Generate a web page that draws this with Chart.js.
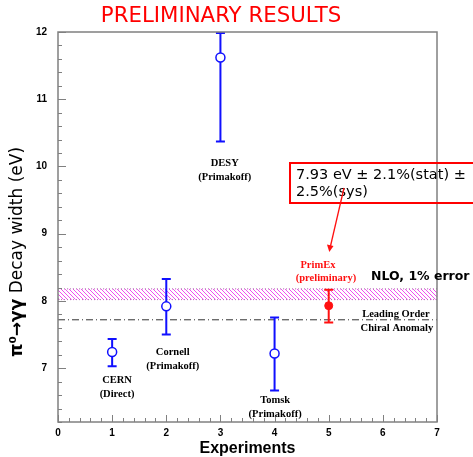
<!DOCTYPE html>
<html>
<head>
<meta charset="utf-8">
<script src="https://cdn.jsdelivr.net/npm/chart.js@4.4.1/dist/chart.umd.min.js"></script>
<style>
  body { margin: 0; background: #fff; }
  canvas { display: block; }
</style>
</head>
<body>
<canvas id="grafic" width="473" height="457"></canvas>
<script>
// mesures anteriors (eV)
const experiments = ['CERN', 'Cornell', 'DESY', 'Tomsk'];
const metodes = ['(Direct)', '(Primakoff)', '(Primakoff)', '(Primakoff)'];
const posX = [1, 2, 3, 4];
const amplades = [7.24, 7.92, 11.62, 7.22];
const errors = [0.21, 0.42, 1.25, 0.55];

// PrimEx
const primexX = [5];
const primexAmplada = [7.93];
const primexError = [0.25];

// teoria
const bandaNLO = [8.02, 8.18];
const ordreDominant = 7.72;

const xTicks = [0, 1, 2, 3, 4, 5, 6, 7];
const yTicks = [7, 8, 9, 10, 11, 12];

const esEnter = v => Math.abs(v - Math.round(v)) < 1e-6;

function patroRatllat(ctx) {
    const c = document.createElement('canvas');
    c.width = 4; c.height = 4;
    const p = c.getContext('2d');
    p.strokeStyle = '#f050f0';
    p.lineWidth = 1;
    p.beginPath();
    p.moveTo(-1, -1); p.lineTo(5, 5);
    p.moveTo(-1, 3); p.lineTo(1, 5);
    p.moveTo(3, -1); p.lineTo(5, 1);
    p.stroke();
    return ctx.createPattern(c, 'repeat');
}

const extres = {
    id: 'extres',
    beforeDatasetsDraw(chart) {
        const { ctx, chartArea: a, scales: { x, y } } = chart;
        ctx.save();
        ctx.beginPath();
        ctx.rect(a.left, a.top, a.right - a.left, a.bottom - a.top);
        ctx.clip();

        // banda NLO
        const yb1 = y.getPixelForValue(bandaNLO[1]);
        const yb0 = y.getPixelForValue(bandaNLO[0]);
        ctx.fillStyle = patroRatllat(ctx);
        ctx.fillRect(a.left, yb1, a.right - a.left, yb0 - yb1);
        ctx.strokeStyle = '#b070b0';
        ctx.lineWidth = 1;
        ctx.setLineDash([1, 2]);
        ctx.beginPath();
        ctx.moveTo(a.left, yb1); ctx.lineTo(a.right, yb1);
        ctx.moveTo(a.left, yb0); ctx.lineTo(a.right, yb0);
        ctx.stroke();

        // ordre dominant
        const ylo = y.getPixelForValue(ordreDominant);
        ctx.strokeStyle = '#333';
        ctx.setLineDash([7, 3, 1, 3]);
        ctx.beginPath();
        ctx.moveTo(a.left, ylo); ctx.lineTo(a.right, ylo);
        ctx.stroke();
        ctx.setLineDash([]);

        // barres d'error
        const barra = (xv, v, e, color) => {
            const px = x.getPixelForValue(xv);
            const yt = y.getPixelForValue(Math.min(v + e, y.max));
            const yd = y.getPixelForValue(Math.max(v - e, y.min));
            ctx.strokeStyle = color;
            ctx.lineWidth = 2;
            ctx.beginPath();
            ctx.moveTo(px, yt); ctx.lineTo(px, yd);
            ctx.moveTo(px - 4.5, yt + 1); ctx.lineTo(px + 4.5, yt + 1);
            ctx.moveTo(px - 4.5, yd); ctx.lineTo(px + 4.5, yd);
            ctx.stroke();
        };
        posX.forEach((xv, i) => barra(xv, amplades[i], errors[i], '#1010ff'));
        primexX.forEach((xv, i) => barra(xv, primexAmplada[i], primexError[i], '#ff1010'));
        ctx.restore();
    },
    afterDraw(chart) {
        const { ctx, chartArea: a, scales: { x, y } } = chart;
        ctx.save();
        // marc
        ctx.strokeStyle = '#808080';
        ctx.lineWidth = 1.5;
        ctx.strokeRect(a.left, a.top, a.right - a.left, a.bottom - a.top);
        // marques cap a dins
        ctx.lineWidth = 1;
        ctx.beginPath();
        y.ticks.forEach(t => {
            const py = Math.round(y.getPixelForValue(t.value)) + 0.5;
            const l = esEnter(t.value) ? 8 : 4;
            ctx.moveTo(a.left, py); ctx.lineTo(a.left + l, py);
        });
        x.ticks.forEach(t => {
            const px = Math.round(x.getPixelForValue(t.value)) + 0.5;
            const l = esEnter(t.value) ? 7 : 4;
            ctx.moveTo(px, a.bottom); ctx.lineTo(px, a.bottom - l);
        });
        ctx.stroke();

        // textos
        ctx.textAlign = 'center';
        ctx.textBaseline = 'middle';
        const text = (t, xv, yv, font, color) => {
            ctx.font = font;
            ctx.fillStyle = color;
            ctx.fillText(t, x.getPixelForValue(xv), y.getPixelForValue(yv));
        };
        const serif = 'bold 10.5px "Liberation Serif"';
        const etiq = [[1.09, 6.825], [2.12, 7.233], [3.08, 10.05], [4.01, 6.527]];
        experiments.forEach((nom, i) => {
            text(nom, etiq[i][0], etiq[i][1], serif, '#000');
            text(metodes[i], etiq[i][0], etiq[i][1] - 0.21, serif, '#000');
        });
        text('PrimEx', 4.8, 8.535, serif, '#ff1010');
        text('(preliminary)', 4.95, 8.34, serif, '#ff1010');
        text('Leading Order', 6.24, 7.807, serif, '#000');
        text('Chiral Anomaly', 6.26, 7.6, serif, '#000');
        ctx.textAlign = 'left';
        text('NLO, 1% error', 5.78, 8.356, 'bold 12.5px "DejaVu Sans"', '#000');

        // títol
        ctx.textAlign = 'center';
        ctx.font = '21.3px "DejaVu Sans"';
        ctx.fillStyle = '#ff0000';
        ctx.fillText('PRELIMINARY RESULTS', 221, 16);

        // eixos
        ctx.fillStyle = '#000';
        ctx.font = 'bold 16px "Liberation Sans"';
        ctx.fillText('Experiments', (a.left + a.right) / 2, 449);
        ctx.save();
        ctx.translate(18, 252);
        ctx.rotate(-Math.PI / 2);
        const t1 = '\u03c0\u2070\u2192\u03b3\u03b3', t2 = ' Decay width (eV)';
        const f1 = 'bold 17px "DejaVu Sans"', f2 = '17px "DejaVu Sans"';
        ctx.font = f1; const w1 = ctx.measureText(t1).width;
        ctx.font = f2; const w2 = ctx.measureText(t2).width;
        ctx.textAlign = 'left';
        ctx.font = f1; ctx.fillText(t1, -(w1 + w2) / 2, 0);
        ctx.font = f2; ctx.fillText(t2, -(w1 + w2) / 2 + w1, 0);
        ctx.restore();

        // caixa i fletxa
        ctx.strokeStyle = '#ff0000';
        ctx.lineWidth = 2;
        ctx.strokeRect(290, 163, 200, 40);
        ctx.textAlign = 'left';
        ctx.fillStyle = '#000';
        ctx.font = '14.5px "DejaVu Sans"';
        ctx.fillText('7.93 eV \u00b1 2.1%(stat) \u00b1', 296, 175.5);
        ctx.fillText('2.5%(sys)', 296, 192);
        ctx.strokeStyle = '#ff1010';
        ctx.lineWidth = 1.3;
        ctx.beginPath();
        ctx.moveTo(344, 188); ctx.lineTo(330.5, 246);
        ctx.stroke();
        ctx.fillStyle = '#ff1010';
        ctx.beginPath();
        ctx.moveTo(329.3, 252); ctx.lineTo(327, 244.5); ctx.lineTo(333.5, 246);
        ctx.closePath();
        ctx.fill();
        ctx.restore();
    }
};

const fontTicks = { family: '"Liberation Sans"', size: 10, weight: 'bold' };

new Chart(document.getElementById('grafic'), {
    type: 'scatter',
    data: {
        datasets: [
            {
                data: posX.map((v, i) => ({ x: v, y: amplades[i] })),
                pointRadius: 4.5, borderWidth: 1.5,
                borderColor: '#1010ff', backgroundColor: '#fff'
            },
            {
                data: primexX.map((v, i) => ({ x: v, y: primexAmplada[i] })),
                pointRadius: 4, borderWidth: 1,
                borderColor: '#ff1010', backgroundColor: '#ff1010'
            }
        ]
    },
    options: {
        responsive: false,
        animation: false,
        layout: { padding: { top: 32, right: 36, left: 0, bottom: 0 } },
        plugins: { legend: { display: false }, tooltip: { enabled: false } },
        scales: {
            x: {
                type: 'linear', min: 0, max: 7,
                ticks: {
                    stepSize: 0.2, autoSkip: false, maxRotation: 0, padding: 5,
                    font: fontTicks, color: '#000',
                    callback: v => esEnter(v) && xTicks.includes(Math.round(v)) ? String(Math.round(v)) : ''
                },
                grid: { display: false, drawTicks: false },
                border: { display: false },
                afterFit: s => { s.height = 35; }
            },
            y: {
                min: 6.2, max: 12,
                ticks: {
                    stepSize: 0.2, autoSkip: false, padding: 11,
                    font: fontTicks, color: '#000',
                    callback: v => esEnter(v) && yTicks.includes(Math.round(v)) ? String(Math.round(v)) : ''
                },
                grid: { display: false, drawTicks: false },
                border: { display: false },
                afterFit: s => { s.width = 58; }
            }
        }
    },
    plugins: [extres]
});
</script>
</body>
</html>
